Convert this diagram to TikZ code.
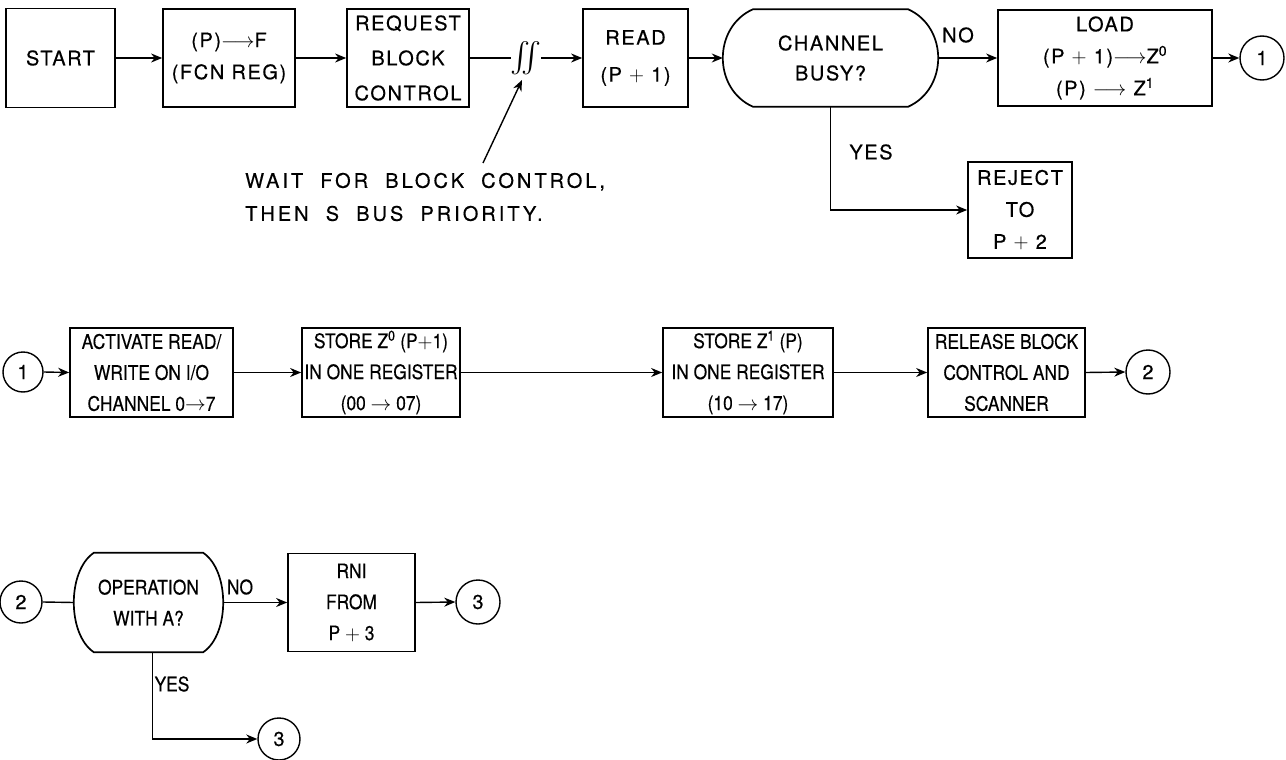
\documentclass[tikz,border=0pt]{standalone}
\usepackage{amsmath}
\usepackage{graphicx}
\usepackage{fontspec}
\newfontfamily\lab[LetterSpace=8,FakeBold=0.4]{TeX Gyre Heros}
\newfontfamily\labn[FakeStretch=0.87,FakeBold=0.4]{TeX Gyre Heros}
\newfontfamily\labw[LetterSpace=15,WordSpace=2,FakeBold=0.4]{TeX Gyre Heros}
\usetikzlibrary{arrows.meta}
\newcommand\decshape[2]{%
  \draw[boxline] ([shift={(#2,0)}]#1.north west) -- ([shift={(-#2,0)}]#1.north east)
    .. controls ([shift={(#2/3,18)}]#1.north east) and ([shift={(#2/3,-18)}]#1.south east) .. ([shift={(-#2,0)}]#1.south east)
    -- ([shift={(#2,0)}]#1.south west)
    .. controls ([shift={(-#2/3,-18)}]#1.south west) and ([shift={(-#2/3,18)}]#1.north west) .. cycle;}
\begin{document}
\begin{tikzpicture}[x=1pt,y=-1pt,
  boxline/.style={line width=1.7pt},
  box/.style={draw, boxline, rectangle, inner sep=0pt, align=center, font=\lab\fontsize{20}{32}\selectfont},
  boxn/.style={draw, boxline, rectangle, inner sep=0pt, align=center, font=\labn\fontsize{20}{31}\selectfont},
  dec/.style={rectangle, inner sep=0pt, align=center, font=\lab\fontsize{20}{30}\selectfont},
  decn/.style={rectangle, inner sep=0pt, align=center, font=\labn\fontsize{20}{31}\selectfont},
  conn/.style={circle, draw, line width=1.4pt, inner sep=0pt, minimum size=44pt, font=\lab\fontsize{20}{24}\selectfont},
  lbl/.style={inner sep=0pt, font=\lab\fontsize{20}{24}\selectfont},
  ln/.style={line width=1.4pt},
  arr/.style={line width=1.4pt, -{Stealth[length=11pt,width=9pt,inset=3.5pt]}}
]
\useasboundingbox (0,0) rectangle (1286,760);

% ---- top row ----
\node[box, minimum width=109pt, minimum height=99pt] (start) at (60.5,58) {START};
\node[box, minimum width=132pt, minimum height=98pt] (pf) at (229,58) {(P)$\longrightarrow$F\\(FCN REG)};
\node[box, minimum width=122pt, minimum height=98pt] (req) at (408,58) {REQUEST\\[3pt]BLOCK\\[3pt]CONTROL};
\node[inner sep=0pt, font=\fontsize{20}{24}\selectfont] (wait) at (526,58) {\scalebox{1.45}{$\int\!\!\!\int$}};
\node[box, minimum width=105pt, minimum height=98pt] (read) at (635.5,58) {READ\\[5pt](P $+$ 1)};
\node[dec, minimum width=215pt, minimum height=97pt] (chan) at (830.5,58) {CHANNEL\\BUSY?};
\decshape{chan}{30}
\node[box, minimum width=214pt, minimum height=96pt] (load) at (1105,58) {LOAD\\(P $+$ 1)$\longrightarrow$Z\textsuperscript{0}\\(P) $\longrightarrow$ Z\textsuperscript{1}};
\node[conn] (c1a) at (1262,58) {1};
\node[box, minimum width=104pt, minimum height=96pt] (reject) at (1020,210) {REJECT\\TO\\P $+$ 2};
\node[lbl] (no1) at (958,35) {NO};
\node[lbl] (yes1) at (871,152) {YES};
\node[inner sep=0pt, anchor=west, align=left, font=\labw\fontsize{20}{33}\selectfont] (note) at (245,197) {WAIT FOR BLOCK CONTROL,\\THEN S BUS PRIORITY.};
\coordinate (annfrom) at (483,163);
\coordinate (annto) at (522,80);

\draw[arr] (start.east) -- (pf.west);
\draw[arr] (pf.east) -- (req.west);
\draw[ln] (req.east) -- (wait.west);
\draw[arr] (wait.east) -- (read.west);
\draw[arr] (read.east) -- (chan.west);
\draw[arr] (chan.east) -- (load.west);
\draw[arr] (load.east) -- (c1a.west);
\draw[arr] (chan.south) |- (reject.west);
\draw[arr] (annfrom) -- (annto);

% ---- middle row ----
\node[conn, minimum size=40pt] (c1b) at (23,372) {1};
\node[boxn, minimum width=163pt, minimum height=89pt] (act) at (151.5,372.5) {ACTIVATE READ/\\WRITE ON I/O\\CHANNEL 0$\rightarrow$7};
\node[boxn, minimum width=158pt, minimum height=89pt] (st0) at (381,372.5) {STORE Z\textsuperscript{0} (P$+$1)\\IN ONE REGISTER\\(00 $\rightarrow$ 07)};
\node[boxn, minimum width=170pt, minimum height=89pt] (st1) at (748,372.5) {STORE Z\textsuperscript{1} (P)\\IN ONE REGISTER\\(10 $\rightarrow$ 17)};
\node[boxn, minimum width=157pt, minimum height=89pt] (rel) at (1006.5,372.5) {RELEASE BLOCK\\CONTROL AND\\SCANNER};
\node[conn] (c2a) at (1148,372) {2};

\draw[arr] (c1b.east) -- (act.west);
\draw[arr] (act.east) -- (st0.west);
\draw[arr] (st0.east) -- (st1.west);
\draw[arr] (st1.east) -- (rel.west);
\draw[arr] (rel.east) -- (c2a.west);

% ---- bottom row ----
\node[conn, minimum size=42pt] (c2b) at (21,602) {2};
\node[decn, minimum width=149pt, minimum height=99pt] (op) at (148.5,602.5) {OPERATION\\WITH A?};
\decshape{op}{20}
\node[boxn, minimum width=127pt, minimum height=98pt] (rni) at (351.5,602.5) {RNI\\FROM\\P $+$ 3};
\node[conn] (c3a) at (478,602) {3};
\node[conn, minimum size=42pt] (c3b) at (279,739) {3};
\node[lbl, font=\labn\fontsize{20}{24}\selectfont] (no2) at (240,587) {NO};
\node[lbl, font=\labn\fontsize{20}{24}\selectfont] (yes2) at (172,684) {YES};

\draw[ln] (c2b.east) -- (op.west);
\draw[arr] (op.east) -- (rni.west);
\draw[arr] (rni.east) -- (c3a.west);
\draw[arr] ([shift={(4,0)}]op.south) |- (c3b.west);
\end{tikzpicture}
\end{document}
